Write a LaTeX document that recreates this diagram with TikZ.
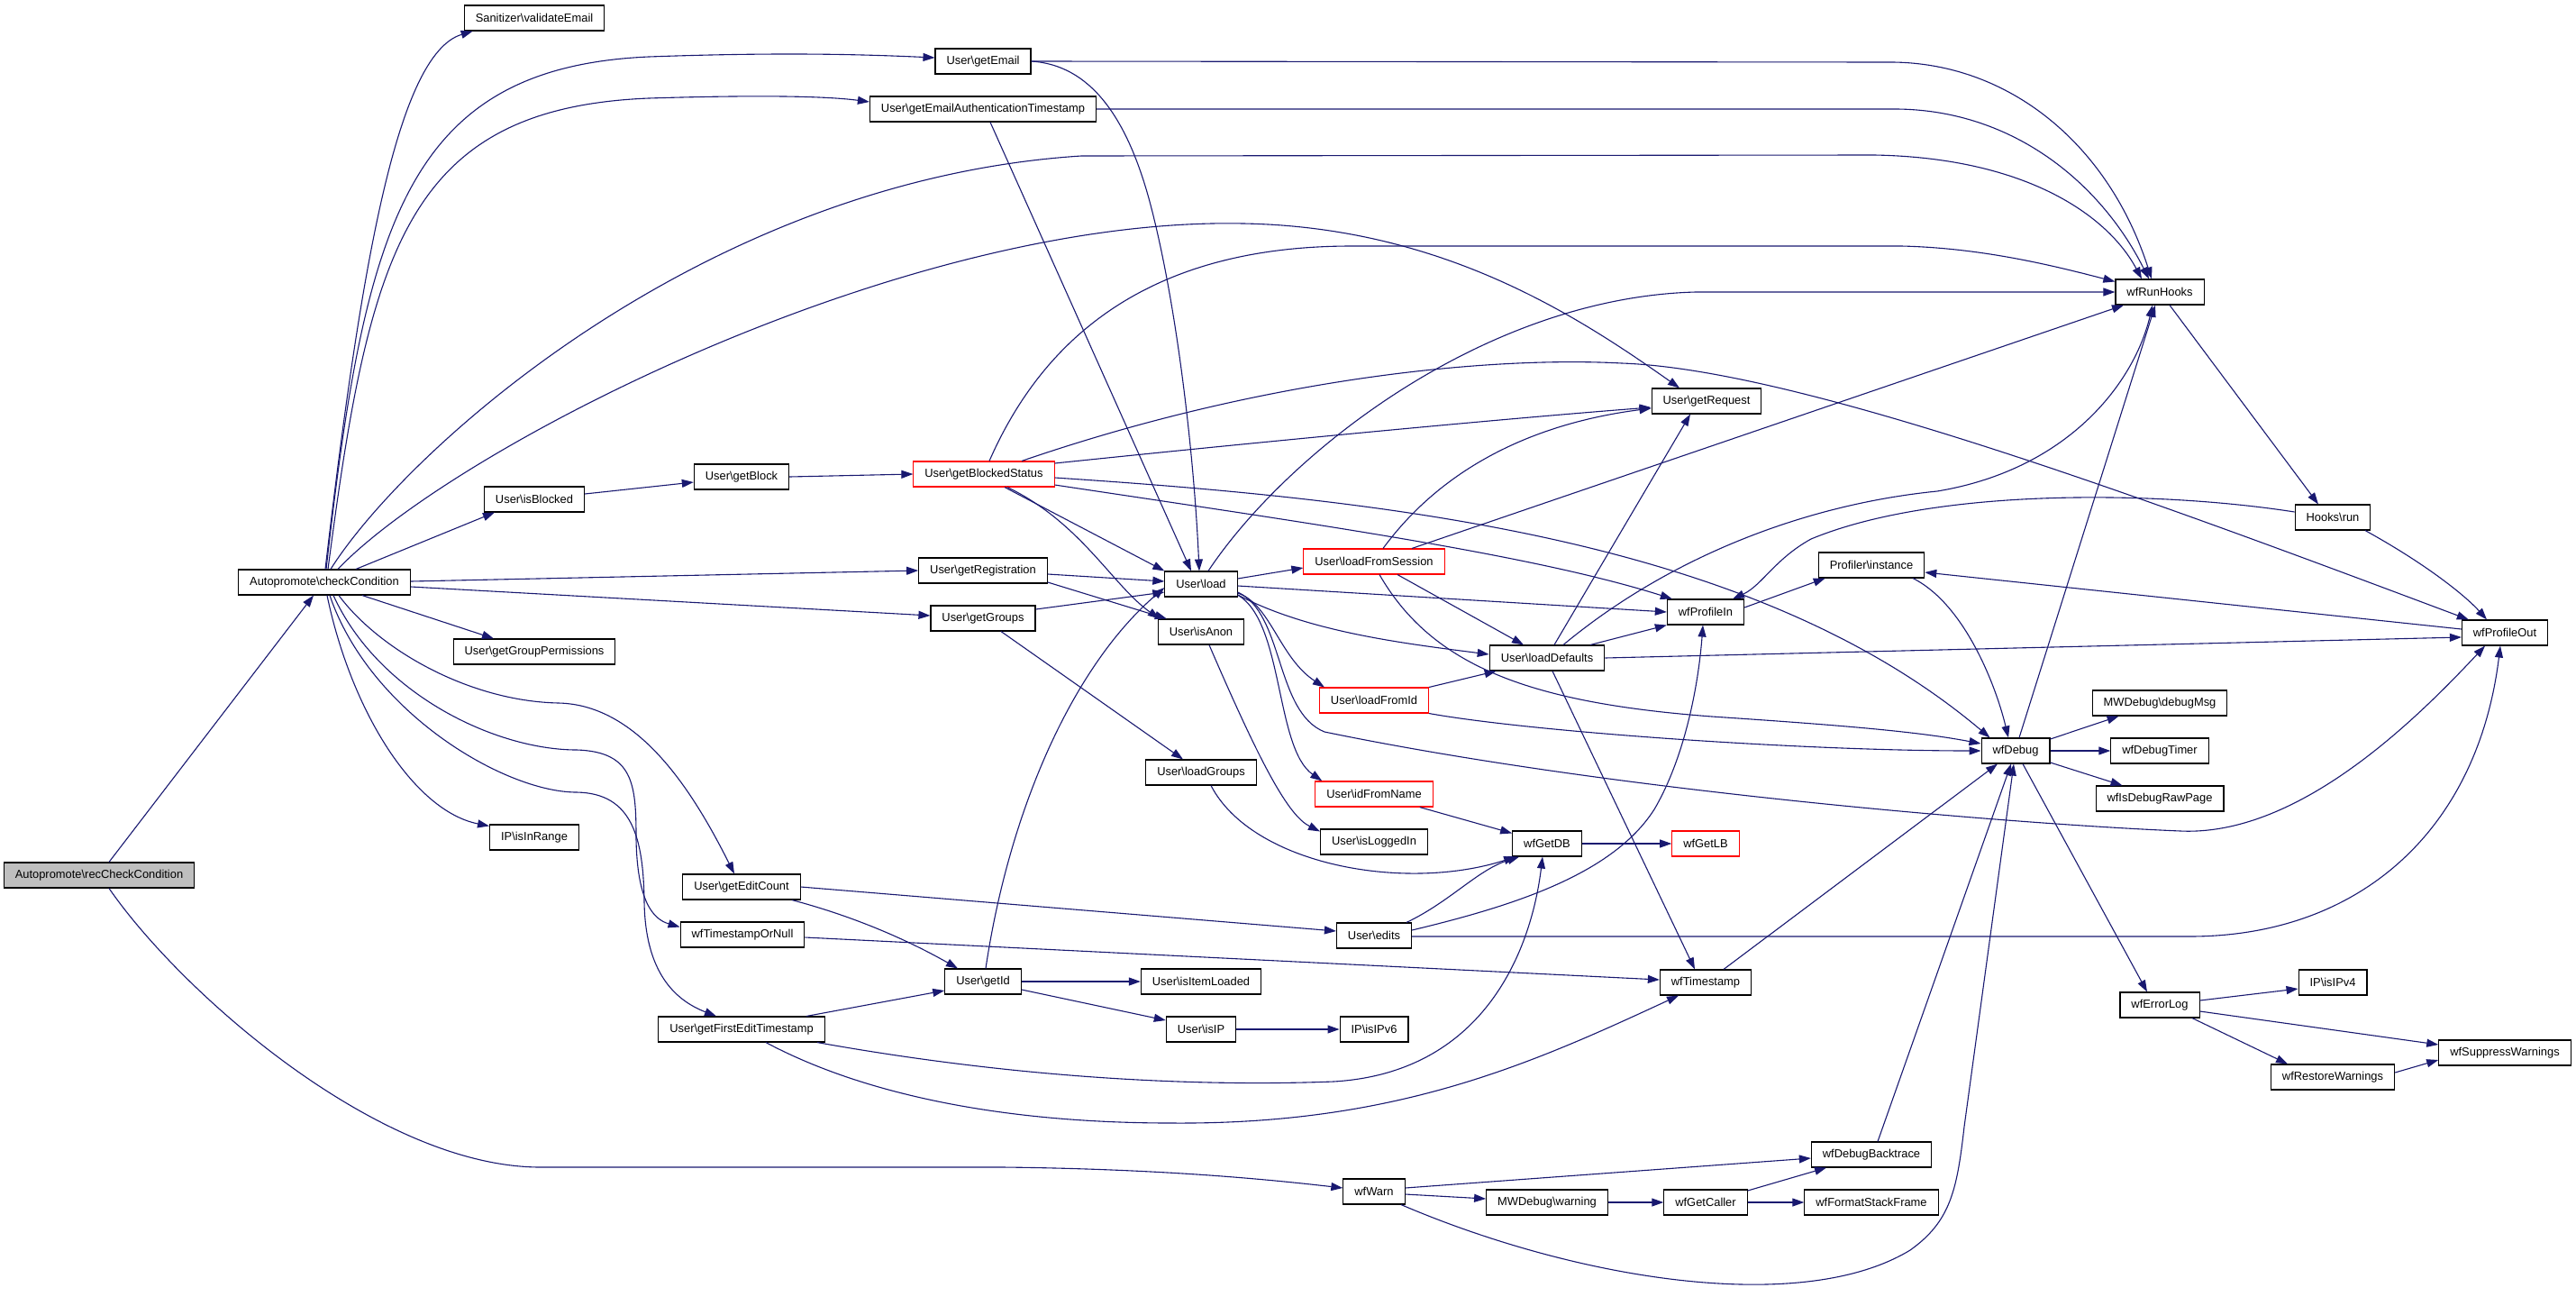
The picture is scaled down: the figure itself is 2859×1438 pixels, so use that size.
\documentclass[tikz,border=0pt]{standalone}
\usepackage{fontspec}
\setmainfont{Liberation Sans}
\usetikzlibrary{arrows.meta}
\definecolor{edgeblue}{HTML}{191970}
\definecolor{rootgray}{HTML}{BFBFBF}
\newcommand{\bsl}{\textbackslash}

\begin{document}
\begin{tikzpicture}[x=1pt,y=-1pt,
    fn/.style={draw=black, line width=1.1pt, fill=white, minimum height=28pt,
      inner xsep=12.5pt, inner ysep=0pt, font={\fontsize{12.9}{15}\selectfont}},
    fnred/.style={fn, draw=red},
    fnroot/.style={fn, fill=rootgray},
    call/.style={edgeblue, line width=1.1pt, -{Triangle[length=13pt,width=9pt]}}]
  \useasboundingbox (0,0) rectangle (2859,1438);

  % functions, column by column
  \node[fnroot] (rc) at (110,971) {Autopromote\bsl recCheckCondition};
  \node[fn] (cc) at (360,646) {Autopromote\bsl checkCondition};
  \node[fn] (valEmail) at (593,20) {Sanitizer\bsl validateEmail};
  \node[fn] (isBlocked) at (593,554) {User\bsl isBlocked};
  \node[fn] (getGroupPerms) at (593,723) {User\bsl getGroupPermissions};
  \node[fn] (isInRange) at (593,929) {IP\bsl isInRange};
  \node[fn] (getBlock) at (823,529) {User\bsl getBlock};
  \node[fn] (getEditCount) at (823,984) {User\bsl getEditCount};
  \node[fn] (tsOrNull) at (824,1037) {wfTimestampOrNull};
  \node[fn] (getFirstEdit) at (823,1142) {User\bsl getFirstEditTimestamp};
  \node[fn] (getEmail) at (1091,68) {User\bsl getEmail};
  \node[fn] (getEmailAuth) at (1091,121) {User\bsl getEmailAuthenticationTimestamp};
  \node[fnred] (getBlockedStatus) at (1092,526) {User\bsl getBlockedStatus};
  \node[fn] (getRegistration) at (1091,633) {User\bsl getRegistration};
  \node[fn] (getGroups) at (1091,686) {User\bsl getGroups};
  \node[fn] (getId) at (1091,1089) {User\bsl getId};
  \node[fn] (load) at (1333,648) {User\bsl load};
  \node[fn] (isAnon) at (1333,701) {User\bsl isAnon};
  \node[fn] (loadGroups) at (1333,857) {User\bsl loadGroups};
  \node[fn] (isItemLoaded) at (1333,1089) {User\bsl isItemLoaded};
  \node[fn] (isIP) at (1333,1142) {User\bsl isIP};
  \node[fnred] (loadFromSession) at (1525,623) {User\bsl loadFromSession};
  \node[fnred] (loadFromId) at (1525,777) {User\bsl loadFromId};
  \node[fnred] (idFromName) at (1525,881) {User\bsl idFromName};
  \node[fn] (isLoggedIn) at (1525,934) {User\bsl isLoggedIn};
  \node[fn] (edits) at (1525,1038) {User\bsl edits};
  \node[fn] (isIPv6) at (1525,1142) {IP\bsl isIPv6};
  \node[fn] (wfWarn) at (1525,1322) {wfWarn};
  \node[fn] (loadDefaults) at (1717,730) {User\bsl loadDefaults};
  \node[fn] (wfGetDB) at (1717,936) {wfGetDB};
  \node[fn] (mwWarning) at (1717,1334) {MWDebug\bsl warning};
  \node[fn] (getRequest) at (1894,445) {User\bsl getRequest};
  \node[fn] (wfProfileIn) at (1893,679) {wfProfileIn};
  \node[fnred] (wfGetLB) at (1893,936) {wfGetLB};
  \node[fn] (wfTimestamp) at (1893,1090) {wfTimestamp};
  \node[fn] (wfGetCaller) at (1893,1334) {wfGetCaller};
  \node[fn] (profInstance) at (2077,627) {Profiler\bsl instance};
  \node[fn] (backtrace) at (2077,1281) {wfDebugBacktrace};
  \node[fn] (stackFrame) at (2077,1334) {wfFormatStackFrame};
  \node[fn] (wfDebug) at (2237,833) {wfDebug};
  \node[fn] (wfRunHooks) at (2397,324) {wfRunHooks};
  \node[fn] (debugMsg) at (2397,780) {MWDebug\bsl debugMsg};
  \node[fn] (debugTimer) at (2397,833) {wfDebugTimer};
  \node[fn] (rawPage) at (2397,886) {wfIsDebugRawPage};
  \node[fn] (wfErrorLog) at (2397,1115) {wfErrorLog};
  \node[fn] (hooksRun) at (2589,574) {Hooks\bsl run};
  \node[fn] (isIPv4) at (2589,1090) {IP\bsl isIPv4};
  \node[fn] (restoreW) at (2589,1195) {wfRestoreWarnings};
  \node[fn] (wfProfileOut) at (2780,702) {wfProfileOut};
  \node[fn] (suppressW) at (2780,1168) {wfSuppressWarnings};

  % recCheckCondition
  \draw[call] ([xshift=11pt]rc.north) -- ([xshift=-12pt]cc.south);
  \draw[call] ([xshift=11pt]rc.south) .. controls (200,1100) and (420,1295) .. (600,1295) -- (1113,1295) .. controls (1300,1297) and (1420,1310) .. ([yshift=4pt]wfWarn.west);

  % checkCondition
  \draw[call] ([xshift=1pt]cc.north) .. controls (400,300) and (440,60) .. ([xshift=10pt]valEmail.south west);
  \draw[call] ([xshift=2pt]cc.north) .. controls (405,250) and (450,75) .. (720,63) .. controls (860,58) and (950,60) .. ([yshift=4pt]getEmail.west);
  \draw[call] ([xshift=4pt]cc.north) .. controls (410,280) and (450,120) .. (720,109) .. controls (850,105) and (920,107) .. ([yshift=8pt]getEmailAuth.west);
  \draw[call] ([xshift=7pt]cc.north) .. controls (450,500) and (780,200) .. (1200,173) -- (2080,172) .. controls (2250,175) and (2340,240) .. ([xshift=-20pt]wfRunHooks.north);
  \draw[call] ([xshift=15pt]cc.north) .. controls (500,500) and (1000,240) .. (1380,248) .. controls (1600,252) and (1750,350) .. ([xshift=-30pt]getRequest.north);
  \draw[call] ([xshift=35pt]cc.north) -- ([xshift=12pt]isBlocked.south west);
  \draw[call] ([yshift=1pt]cc.east) -- (getRegistration.west);
  \draw[call] ([yshift=-5pt]cc.east) -- ([yshift=3pt]getGroups.west);
  \draw[call] ([xshift=42pt]cc.south) -- ([xshift=-45pt]getGroupPerms.north);
  \draw[call] ([xshift=16pt]cc.south) .. controls (420,720) and (520,778) .. (620,780) .. controls (710,782) and (770,880) .. ([xshift=-8pt]getEditCount.north);
  \draw[call] ([xshift=10pt]cc.south) .. controls (420,770) and (550,832) .. (640,832) .. controls (703,834) and (706,870) .. (706,930) .. controls (707,1000) and (725,1020) .. ([yshift=-6pt]tsOrNull.north west);
  \draw[call] ([xshift=6pt]cc.south) .. controls (410,790) and (560,879) .. (640,879) .. controls (702,880) and (714,930) .. (715,1000) .. controls (716,1080) and (750,1110) .. ([xshift=-28pt]getFirstEdit.north);
  \draw[call] ([xshift=3pt]cc.south) .. controls (390,790) and (460,900) .. ([yshift=-2pt]isInRange.north west);

  % getBlock chain
  \draw[call] ([yshift=6pt]isBlocked.east) -- ([yshift=-6pt]getBlock.west);
  \draw[call] (getBlock.east) -- (getBlockedStatus.west);
  \draw[call] ([xshift=6pt]getBlockedStatus.north) .. controls (1160,370) and (1280,273) .. (1500,273) -- (2110,273) .. controls (2200,275) and (2280,295) .. ([yshift=-3pt]wfRunHooks.north west);
  \draw[call] ([yshift=12pt]getBlockedStatus.east) .. controls (1450,485) and (1700,462) .. ([yshift=-7pt]getRequest.west);
  \draw[call] ([xshift=42pt]getBlockedStatus.north) .. controls (1400,420) and (1650,395) .. (1800,403) .. controls (2000,410) and (2400,560) .. ([xshift=8pt]wfProfileOut.north west);
  \draw[call] ([yshift=-12pt]getBlockedStatus.east) .. controls (1450,580) and (1700,615) .. ([xshift=6pt]wfProfileIn.north west);
  \draw[call] ([yshift=-4pt]getBlockedStatus.east) .. controls (1550,555) and (1950,600) .. ([xshift=10pt]wfDebug.north west);
  \draw[call] ([xshift=23pt]getBlockedStatus.south) -- (load.north west);
  \draw[call] ([xshift=26pt]getBlockedStatus.south) .. controls (1200,580) and (1235,650) .. ([xshift=2pt]isAnon.north west);

  % getRegistration, getGroups, getEmail
  \draw[call] ([yshift=-4pt]getRegistration.east) -- ([yshift=3pt]load.west);
  \draw[call] ([yshift=-13pt]getRegistration.east) -- ([xshift=10pt]isAnon.north west);
  \draw[call] ([yshift=10pt]getGroups.east) -- ([yshift=-9pt]load.west);
  \draw[call] ([xshift=20pt]getGroups.south) -- ([xshift=-20pt]loadGroups.north);
  \draw[call] (getEmail.east) .. controls (1210,72) and (1250,130) .. (1275,220) .. controls (1305,330) and (1325,500) .. ([xshift=-2pt]load.north);
  \draw[call] ([xshift=8pt]getEmailAuth.south) -- ([xshift=-11pt]load.north);
  \draw[call] (getEmail.east) -- (2100,69) .. controls (2230,70) and (2340,160) .. ([xshift=-9pt]wfRunHooks.north);
  \draw[call] (getEmailAuth.east) -- (2100,121) .. controls (2230,120) and (2330,200) .. ([xshift=-12pt]wfRunHooks.north);

  % User\load
  \draw[call] ([xshift=8pt]load.north) .. controls (1430,500) and (1650,330) .. (1882,324) -- (wfRunHooks.west);
  \draw[call] ([yshift=6pt]load.east) -- ([yshift=-7pt]loadFromSession.west);
  \draw[call] ([yshift=-2pt]load.east) -- (wfProfileIn.west);
  \draw[call] ([yshift=-12pt]load.east) .. controls (1450,700) and (1550,713) .. ([yshift=4pt]loadDefaults.west);
  \draw[call] ([yshift=-10pt]load.east) .. controls (1410,670) and (1420,730) .. ([xshift=6pt]loadFromId.north west);
  \draw[call] ([yshift=-12pt]load.east) .. controls (1425,690) and (1415,830) .. ([xshift=8pt]idFromName.north west);
  \draw[call] ([yshift=-9pt]load.east) .. controls (1425,680) and (1415,790) .. (1470,812) .. controls (1800,880) and (2250,915) .. (2420,922) .. controls (2550,928) and (2680,800) .. ([xshift=-22pt]wfProfileOut.south);
  \draw[call] ([xshift=9pt]isAnon.south) .. controls (1400,850) and (1430,905) .. ([yshift=-3pt]isLoggedIn.north west);
  \draw[call] ([xshift=11pt]loadGroups.south) .. controls (1390,960) and (1560,990) .. ([xshift=4pt]wfGetDB.south west);

  % loaders
  \draw[call] ([xshift=10pt]loadFromSession.north) .. controls (1600,520) and (1700,470) .. ([yshift=-8pt]getRequest.west);
  \draw[call] ([xshift=42pt]loadFromSession.north) -- ([xshift=-40pt]wfRunHooks.south);
  \draw[call] ([xshift=26pt]loadFromSession.south) -- ([xshift=-26pt]loadDefaults.north);
  \draw[call] ([xshift=6pt]loadFromSession.south) .. controls (1590,740) and (1700,780) .. (1900,795) .. controls (2050,805) and (2130,812) .. ([yshift=8pt]wfDebug.west);
  \draw[call] (loadFromId.north east) -- ([xshift=8pt]loadDefaults.south west);
  \draw[call] (loadFromId.south east) .. controls (1700,812) and (2000,833) .. (wfDebug.west);
  \draw[call] ([xshift=-15pt]idFromName.south east) -- ([yshift=-3pt]wfGetDB.north west);
  \draw[call] (wfGetDB.east) -- (wfGetLB.west);

  % edits and ids
  \draw[call] ([xshift=36pt]edits.north) .. controls (1610,1000) and (1640,965) .. ([xshift=8pt]wfGetDB.south west);
  \draw[call] ([yshift=6pt]edits.east) .. controls (1680,1005) and (1790,970) .. (1836,898) .. controls (1870,840) and (1885,760) .. ([xshift=-3pt]wfProfileIn.south);
  \draw[call] ([yshift=-1pt]edits.east) -- (2430,1039) .. controls (2620,1039) and (2750,920) .. ([xshift=-5pt]wfProfileOut.south);
  \draw[call] (getEditCount.east) -- ([yshift=5pt]edits.west);
  \draw[call] ([xshift=56pt]getEditCount.south) .. controls (960,1020) and (1020,1050) .. ([xshift=-28pt]getId.north);
  \draw[call] ([yshift=-3pt]tsOrNull.east) -- ([yshift=3pt]wfTimestamp.west);
  \draw[call] ([xshift=3pt]getId.north) .. controls (1120,900) and (1190,740) .. ([yshift=-4pt]load.west);
  \draw[call] (getId.east) -- (isItemLoaded.west);
  \draw[call] ([yshift=-9pt]getId.east) -- ([yshift=10pt]isIP.west);
  \draw[call] ([xshift=72pt]getFirstEdit.north) -- ([yshift=-10pt]getId.west);
  \draw[call] ([xshift=84pt]getFirstEdit.south) .. controls (1150,1200) and (1350,1205) .. (1480,1200) .. controls (1650,1190) and (1700,1050) .. ([xshift=-5pt]wfGetDB.south);
  \draw[call] ([xshift=27pt]getFirstEdit.south) .. controls (950,1210) and (1100,1246) .. (1300,1246) .. controls (1550,1248) and (1700,1180) .. ([xshift=-30pt]wfTimestamp.south);
  \draw[call] (isIP.east) -- (isIPv6.west);

  % loadDefaults
  \draw[call] ([xshift=8pt]loadDefaults.north) -- ([xshift=-18pt]getRequest.south);
  \draw[call] ([xshift=18pt]loadDefaults.north) .. controls (1850,620) and (2000,560) .. (2150,545) .. controls (2300,520) and (2370,420) .. ([xshift=-8pt]wfRunHooks.south);
  \draw[call] ([xshift=48pt]loadDefaults.north) -- (wfProfileIn.south west);
  \draw[call] (loadDefaults.east) -- ([yshift=-5pt]wfProfileOut.west);
  \draw[call] ([xshift=6pt]loadDefaults.south) -- ([xshift=-12pt]wfTimestamp.north);

  % profiling and hooks
  \draw[call] ([yshift=5pt]wfProfileIn.east) -- ([xshift=8pt]profInstance.south west);
  \draw[call] ([yshift=4pt]wfProfileOut.west) -- ([yshift=-8pt]profInstance.east);
  \draw[call] ([xshift=46pt]profInstance.south) .. controls (2180,670) and (2215,760) .. ([xshift=-8pt]wfDebug.north);
  \draw[call] ([yshift=6pt]hooksRun.west) .. controls (2400,545) and (2150,540) .. (2010,598) .. controls (1970,620) and (1955,650) .. ([xshift=30pt]wfProfileIn.north);
  \draw[call] ([xshift=36pt]hooksRun.south) .. controls (2700,630) and (2740,665) .. ([xshift=-20pt]wfProfileOut.north);
  \draw[call] ([xshift=11pt]wfRunHooks.south) -- ([xshift=-16pt]hooksRun.north);

  % wfDebug
  \draw[call] ([xshift=4pt]wfDebug.north) -- ([xshift=-5pt]wfRunHooks.south);
  \draw[call] ([yshift=13pt]wfDebug.east) -- ([xshift=30pt]debugMsg.south west);
  \draw[call] (wfDebug.east) -- (debugTimer.west);
  \draw[call] ([yshift=-13pt]wfDebug.east) -- ([xshift=30pt]rawPage.north west);
  \draw[call] ([xshift=8pt]wfDebug.south) -- ([xshift=-14pt]wfErrorLog.north);
  \draw[call] ([xshift=20pt]wfTimestamp.north) -- ([xshift=-20pt]wfDebug.south);
  \draw[call] ([xshift=7pt]backtrace.north) -- ([xshift=-5pt]wfDebug.south);
  \draw[call] ([xshift=30pt]wfWarn.south) .. controls (1750,1420) and (2000,1460) .. (2120,1387) .. controls (2165,1355) and (2172,1320) .. (2180,1250) -- ([xshift=-2pt]wfDebug.south);

  % wfErrorLog
  \draw[call] ([yshift=5pt]wfErrorLog.east) -- ([yshift=-7pt]isIPv4.west);
  \draw[call] ([yshift=-7pt]wfErrorLog.east) -- ([yshift=9pt]suppressW.west);
  \draw[call] ([xshift=36pt]wfErrorLog.south) -- ([xshift=-50pt]restoreW.north);
  \draw[call] ([yshift=5pt]restoreW.east) -- ([yshift=-8pt]suppressW.west);

  % wfWarn
  \draw[call] ([yshift=4pt]wfWarn.east) -- ([yshift=-4pt]backtrace.west);
  \draw[call] ([yshift=-3pt]wfWarn.east) -- ([yshift=4pt]mwWarning.west);
  \draw[call] (mwWarning.east) -- (wfGetCaller.west);
  \draw[call] ([yshift=13pt]wfGetCaller.east) -- ([xshift=-50pt]backtrace.south);
  \draw[call] (wfGetCaller.east) -- (stackFrame.west);
\end{tikzpicture}
\end{document}
